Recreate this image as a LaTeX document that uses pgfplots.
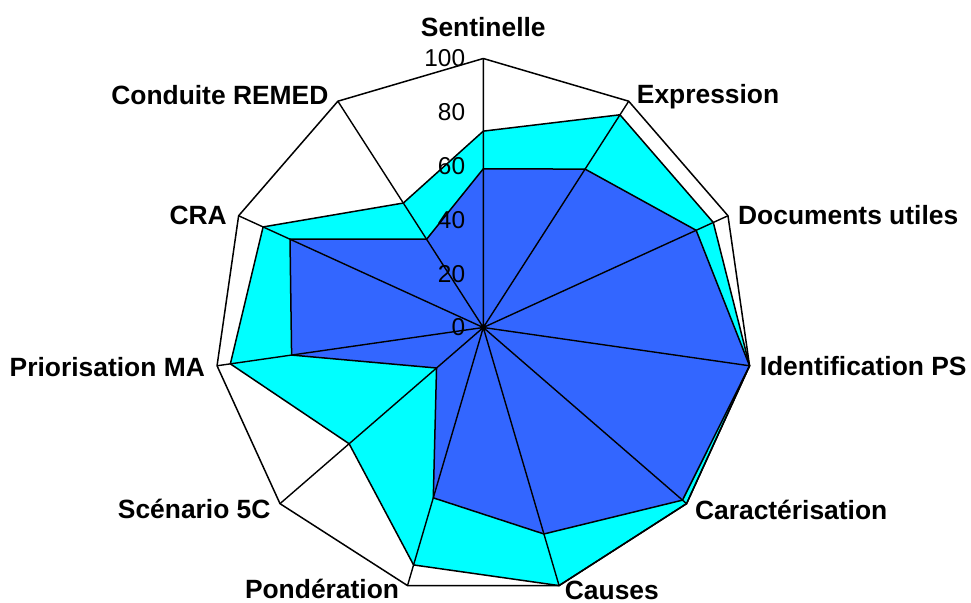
\documentclass[border=0pt]{standalone}
\usepackage{pgfplots}
\pgfplotsset{compat=1.18}
\usepgfplotslibrary{polar}
\usepackage{fontspec}
\setmainfont{Liberation Sans}
\definecolor{cyanfill}{RGB}{0,255,255}
\definecolor{bluefill}{RGB}{51,102,255}

% angle (deg, counter-clockwise from east), value
\pgfplotstableread{
ang     val
90      73
122.727 55
155.455 90
188.182 95
220.909 66
253.636 92
286.364 100
319.091 100
351.818 100
384.545 94
417.273 94
450     73
}\cyanserie
\pgfplotstableread{
ang     val
90      59
122.727 39
155.455 79
188.182 72
220.909 23
253.636 66
286.364 80
319.091 98
351.818 100
384.545 87
417.273 70
450     59
}\blueserie
\pgfplotstableread{
ang     val
90      100
122.727 100
155.455 100
188.182 100
220.909 100
253.636 100
286.364 100
319.091 100
351.818 100
384.545 100
417.273 100
450     100
}\frameserie

\tikzset{cat/.style={inner sep=0pt, font=\bfseries\fontsize{26.5}{27}\selectfont}}

\begin{document}
\begin{tikzpicture}
\useasboundingbox (0,0) rectangle (971bp,603bp);
\begin{polaraxis}[
  at={(483.3bp,275.5bp)}, anchor=center,
  scale only axis,
  width=538bp, height=538bp,
  xmin=90, xmax=450,
  ymin=0, ymax=100,
  clip=false,
  axis line style={draw=none},
  ytick=\empty,
  xtick={90,122.727,155.455,188.182,220.909,253.636,286.364,319.091,351.818,384.545,417.273},
  xticklabels={},
  xmajorgrids,
  major x grid style={black, line width=1.4bp},
  major tick length=0pt,
  axis on top,
]
  \addplot[fill=cyanfill, draw=black, line width=1.5bp] table[x=ang, y=val] {\cyanserie};
  \addplot[fill=bluefill, draw=black, line width=1.5bp] table[x=ang, y=val] {\blueserie};
  \addplot[draw=black, line width=1.5bp] table[x=ang, y=val] {\frameserie};
  \foreach \r in {0,20,40,60,80,100} {
    \edef\tmp{\noexpand\node[anchor=east, inner sep=0pt, xshift=-18bp, font=\noexpand\fontsize{24.5}{25}\noexpand\selectfont] at (axis cs:90,\r) {\r};}
    \tmp
  }
  \node[cat, anchor=base, yshift=22.3bp] at (axis cs:90,100) {Sentinelle};
  \node[cat, anchor=base west, xshift=8bp, yshift=-2.4bp] at (axis cs:417.273,100) {Expression};
  \node[cat, anchor=base west, xshift=10bp, yshift=-9bp] at (axis cs:384.545,100) {Documents utiles};
  \node[cat, anchor=base west, xshift=10bp, yshift=-9.7bp] at (axis cs:351.818,100) {Identification PS};
  \node[cat, anchor=base west, xshift=8.3bp, yshift=-15.7bp] at (axis cs:319.091,100) {Caractérisation};
  \node[cat, anchor=base west, xshift=5.6bp, yshift=-13.8bp] at (axis cs:286.364,100) {Causes};
  \node[cat, anchor=base east, xshift=-8.3bp, yshift=-13.2bp] at (axis cs:253.636,100) {Pondération};
  \node[cat, anchor=base east, xshift=-9.3bp, yshift=-14.7bp] at (axis cs:220.909,100) {Scénario 5C};
  \node[cat, anchor=base east, xshift=-12bp, yshift=-10.3bp] at (axis cs:188.182,100) {Priorisation MA};
  \node[cat, anchor=base east, xshift=-11.7bp, yshift=-8.6bp] at (axis cs:155.455,100) {CRA};
  \node[cat, anchor=base east, xshift=-9.3bp, yshift=-3bp] at (axis cs:122.727,100) {Conduite REMED};
\end{polaraxis}
\end{tikzpicture}
\end{document}
